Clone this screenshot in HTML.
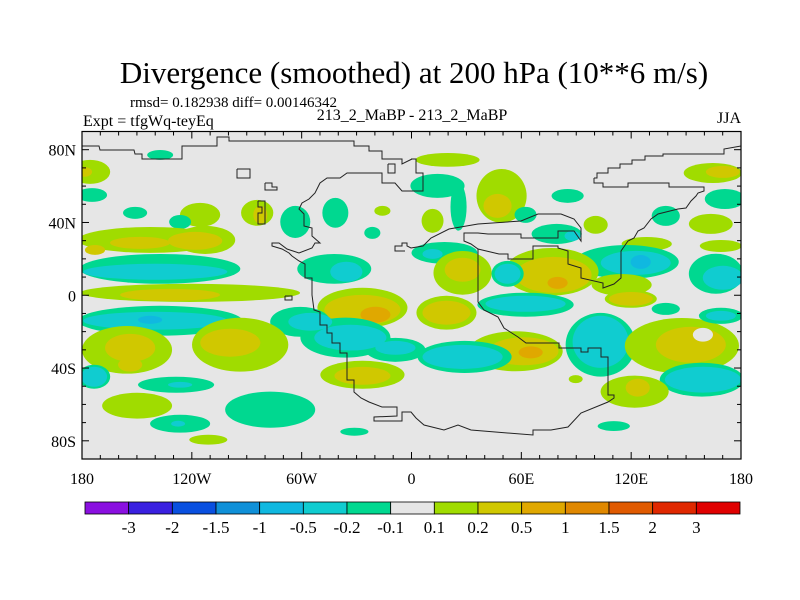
<!DOCTYPE html>
<html><head><meta charset="utf-8"><style>
body{margin:0;background:#fff}
svg{display:block}
svg text{font-family:"Liberation Serif","Times New Roman",serif}
</style></head><body>
<svg id="chart" width="800" height="600" viewBox="0 0 800 600" font-family="Liberation Serif, serif">
<text x="414" y="83" font-size="31" font-family="Liberation Serif, serif" text-anchor="middle">Divergence (smoothed) at 200 hPa (10**6 m/s)</text>
<text x="130" y="107" font-size="15" font-family="Liberation Serif, serif">rmsd= 0.182938 diff= 0.00146342</text>
<text x="83" y="126" font-size="16" font-family="Liberation Serif, serif">Expt = tfgWq-teyEq</text>
<text x="412" y="120" font-size="16" font-family="Liberation Serif, serif" text-anchor="middle">213_2_MaBP - 213_2_MaBP</text>
<text x="741" y="123" font-size="16" font-family="Liberation Serif, serif" text-anchor="end">JJA</text>
<defs><clipPath id="mapclip"><rect x="82" y="131.5" width="659" height="327.5"/></clipPath></defs>
<rect x="82" y="131.5" width="659" height="327.5" fill="#e6e6e6"/>
<g id="blobs" clip-path="url(#mapclip)"></g>
<g id="coast" clip-path="url(#mapclip)" fill="none" stroke="#222" stroke-width="1"></g>
<rect x="82" y="131.5" width="659" height="327.5" fill="none" stroke="#000" stroke-width="1.2"/>
<g id="axes" font-size="16" font-family="Liberation Serif, serif"></g>
<g id="cbar" font-size="17" font-family="Liberation Serif, serif"></g>
</svg>
<script>
const levelColors=["#8a10e0","#3a20e0","#0a50e0","#1090d8","#10b8e0","#10ccd0","#00d890","#e6e6e6","#a0dc00","#d0c800","#e0a800","#e08800","#e05a00","#e02800","#e00000"];
const levelLabels=["-3","-2","-1.5","-1","-0.5","-0.2","-0.1","0.1","0.2","0.5","1","1.5","2","3"];
const lonTicks=[-180,-120,-60,0,60,120,180];
const lonTickLabels=["180","120W","60W","0","60E","120E","180"];
const latTicks=[80,40,0,-40,-80];
const latTickLabels=["80N","40N","0","40S","80S"];
// blobs: lon, lat, lon-radius, lat-radius, level index
const blobLon=[-137.3,-175.6,-178.9,-174.5,-115.5,-151,-126.4,-142.8,-112.7,-148.3,-118.2,-172.9,-84.3,-82.6,-63.5,-41.6,-15.9,-21.4,
-137.3,-140,-42.2,-35.6,-120.9,-131.9,-26.8,-26.8,-19.7,
-137.3,-140,-142.8,-60.8,-36.1,-8.8,-55.3,-33.4,-8.8,
-155.4,-153.7,-153.7,-93.6,-99,-173.4,-173.4,-128.6,-126.4,-149.9,-126.4,-127.5,-77.2,-111,-31.2,-26.8,-26.8,
19.7,14.2,25.7,11.5,49.2,47,85.3,62.3,100.6,164.6,170.1,171.2,138.9,163.5,128.5,79.3,88,169,18,11.5,
117.6,122.5,125.2,166.3,170.1,27.9,27.9,76.5,77.6,79.8,52.5,52.5,114.8,
19.1,19.1,62.3,62.3,56.9,61.2,65.1,29,27.9,103.3,103.3,147.7,152.6,159.2,169,169,158.6,159.2,121.9,123.6,110.5,89.7,119.8,119.8,138.9];
const blobLat=[77.1,67.8,67.8,55.1,44.2,45.3,40.3,30.4,30.4,28.8,29.9,24.9,45.3,44.2,40.3,45.3,46.4,34.3,
14.5,12.9,14.5,12.9,1.3,0.2,-6.9,-8,-10.7,
-14,-14,-13.5,-14.6,-23.3,-30,-14.6,-23.3,-28.9,
-30,-28.9,-38.2,-27.2,-26.1,-44.8,-44.8,-49.2,-49.2,-60.7,-70.6,-70.6,-62.9,-79.4,-75,-43.7,-44.3,
74.4,60.1,48.6,40.9,54.6,49.1,54.6,44.2,38.7,67.2,67.8,52.9,43.6,39.2,28.2,33.7,32.6,27.1,23.3,22.7,
18.3,17.8,18.3,11.8,9.6,12.3,14,12.9,11.2,6.8,11.8,11.8,5.7,
-9.6,-9.6,-5.2,-4.7,-30.8,-30.8,-31.4,-33.9,-33.9,-27.2,-25.6,-27.8,-27.2,-21.7,-11.3,-11.3,-46.4,-46.4,-53,-50.8,-71.9,-46.1,-2,-2,-7.5];
const blobRx=[7.1,11,4.4,8.2,11,6.6,6,39.4,16.4,16.4,14.8,5.5,8.8,3.8,8.2,7.1,4.4,4.4,
43.8,39.4,20.2,8.8,60,27.3,24.6,20.8,8.2,
44.8,39.4,6.6,16.4,24.6,16.4,12,19.7,11,
24.6,13.7,6.6,26.3,16.4,8.8,7.1,20.8,6.6,19.1,16.4,3.8,24.6,10.4,7.7,23,15.3,
17.5,14.8,4.4,6,13.7,7.7,8.8,6,6.6,15.9,9.3,11,7.7,12,13.7,13.7,4.4,11.5,18,5.5,
28.4,19.1,5.5,14.8,11,15.9,9.8,25.7,20.8,5.5,8.8,7.1,16.4,
16.4,13.1,26.3,21.9,25.7,19.1,6.6,25.7,21.9,19.1,15.3,31.2,19.1,5.5,12,8.2,23,20.8,18.6,6.6,8.8,3.8,14.2,12,7.7];
const blobRy=[2.7,6.6,2.7,3.8,6.6,3.3,3.8,7.1,7.7,3.3,4.9,2.7,7.1,4.9,8.8,8.2,2.7,3.3,
8.2,4.4,8.2,5.5,5,3.3,11,8.2,4.4,
8.2,4.9,2.2,8.2,11,6.6,4.9,7.1,3.8,
13.1,7.7,3.8,14.8,7.7,6.6,5.5,4.4,1.6,7.1,4.9,1.6,9.9,2.7,2.2,7.7,4.9,
3.8,6.6,13.1,6.6,14.8,6.6,3.8,4.4,4.9,5.5,3.3,5.5,5.5,5.5,3.8,5.5,2.7,3.3,6,2.7,
9.3,6.6,3.8,11,6.6,12,6.6,13.1,9.9,3.3,7.1,5.5,6,
9.3,6.6,6.6,4.4,11,7.7,3.3,8.8,6.6,17.5,14.3,15.3,9.9,3.8,4.4,2.7,9.3,7.1,8.8,4.9,2.7,2.2,4.9,3.8,3.3];
const blobLevel=[6,8,9,6,8,6,6,8,8,9,9,9,8,9,6,6,8,6,
6,5,6,5,8,9,8,9,10,
6,5,4,6,6,6,5,5,5,
8,9,9,8,9,6,5,6,5,8,6,5,6,8,6,8,9,
8,6,6,8,8,9,6,6,8,8,9,6,6,8,8,6,5,8,6,5,
6,5,4,6,5,8,9,8,9,10,6,5,8,
8,9,6,5,8,9,10,6,5,6,5,8,9,7,6,5,6,5,8,9,6,8,8,9,6];

const X0=82,X1=741,Y0=131.5,Y1=459;
const xS=lon=>X0+(lon+180)*(X1-X0)/360;
const yS=lat=>Y0+(90-lat)*(Y1-Y0)/180;
const NS="http://www.w3.org/2000/svg";
function mk(tag,attrs,parent){const e=document.createElementNS(NS,tag);for(const k in attrs)e.setAttribute(k,attrs[k]);parent.appendChild(e);return e;}

const bg=document.getElementById('blobs');
const kx=(X1-X0)/360, ky=(Y1-Y0)/180;
for(let i=0;i<blobLon.length;i++){
  const e=mk('ellipse',{cx:xS(blobLon[i]),cy:yS(blobLat[i]),rx:blobRx[i]*kx,ry:blobRy[i]*ky,fill:levelColors[blobLevel[i]]},bg);
  
  
}

const coasts=[
"82,146 99,146 100,150 134,150 135,154 142,154 142,159 182,159 182,146 217,146 217,137 229,137 229,141 354,141 354,146 369,146 369,151 382,151 382,159 402,159 402,164 412,159",
"411,159 416,159 416,173 423,173 423,191 411,191",
"594,178 597,178 597,173 608,173 608,168 620,168 620,164 632,164 632,160 645,160 645,156 663,156 663,154 724,154 724,149 741,146",
"594,178 594,183 603,183 603,187 628,187 628,183 669,183 669,187 704,187 704,191 698,193 696,196 691,201 686,208 678,209 658,214 651,219 644,228 638,231 634,238 628,241 621,251 621,278 614,284 603,288 603,283 581,278 581,268 568,264 568,251 558,248 558,246 533,246 533,259 508,259 508,254 499,254 478,249 471,244 464,241 464,233 478,233 488,234 521,234 521,238 558,238 558,231 574,231 581,241 581,228 574,219 561,214 538,214 521,221 478,224 449,229 431,238 423,246 411,248 407,246 407,243 402,243 402,246 395,246 395,251 405,251",
"478,249 478,302 484,310 498,317 504,328 518,337 526,343 559,343 559,348 581,348 581,352 588,352 588,348 601,348 601,357 608,357 608,395 614,395 614,398 608,402 581,413 568,427 551,430 533,430 533,435 471,430 458,425 444,430 424,425 416,418 411,412 402,412 402,421 374,421 374,417 397,416 397,407 389,407 382,407 369,402 361,398 354,392 354,380 347,380 347,353 340,353 340,343 332,343 332,333 327,333 327,325 320,325 320,312 314,310 312,295 312,278 305,278 305,264 299,261 292,256 289,253 282,249 272,246 272,243 279,243 287,249 299,253 312,248 315,243 320,243 312,236 312,228 304,226 304,214 299,209 302,203 309,199 315,193 320,183 327,178 340,178 347,173 382,173 382,183 395,183 402,191 412,191",
"237,169 250,169 250,178 237,178 237,169",
"265,183 272,183 272,187 277,187 277,190 265,190 265,183",
"258,201 265,201 265,224 258,224 258,213 262,213 262,207 258,207 258,201",
"388,164 395,164 395,173 388,173 388,164",
"285,296 292,296 292,300 285,300 285,296"
];
const cg=document.getElementById('coast');
coasts.forEach(p=>{const e=mk('polyline',{points:p},cg);

});

const ag=document.getElementById('axes');
for(let lon=-180;lon<=180;lon+=10){
  const major=lon%60===0, L=major?7:4;
  mk('line',{x1:xS(lon),x2:xS(lon),y1:Y0,y2:Y0+L,stroke:'#000'},ag);
  mk('line',{x1:xS(lon),x2:xS(lon),y1:Y1,y2:Y1-L,stroke:'#000'},ag);
}
for(let lat=-80;lat<=80;lat+=10){
  const major=lat%40===0, L=major?7:4;
  mk('line',{x1:X0,x2:X0+L,y1:yS(lat),y2:yS(lat),stroke:'#000'},ag);
  mk('line',{x1:X1,x2:X1-L,y1:yS(lat),y2:yS(lat),stroke:'#000'},ag);
}
lonTicks.forEach((lon,i)=>{const t=mk('text',{x:xS(lon),y:484,'text-anchor':'middle','font-family':'Liberation Serif, serif'},ag);t.textContent=lonTickLabels[i];

});
latTicks.forEach((lat,i)=>{const t=mk('text',{x:76,y:yS(lat)+6,'text-anchor':'end','font-family':'Liberation Serif, serif'},ag);t.textContent=latTickLabels[i];

});

const cb=document.getElementById('cbar');
const cbX=85,cbW=(740-85)/levelColors.length,cbY=502,cbH=12;
levelColors.forEach((c,i)=>{const r=mk('rect',{x:cbX+i*cbW,y:cbY,width:cbW,height:cbH,fill:c,stroke:'#000','stroke-width':0.8},cb);

});
levelLabels.forEach((l,i)=>{const t=mk('text',{x:cbX+(i+1)*cbW,y:533,'text-anchor':'middle','font-family':'Liberation Serif, serif'},cb);t.textContent=l;

});
</script>
</body></html>
